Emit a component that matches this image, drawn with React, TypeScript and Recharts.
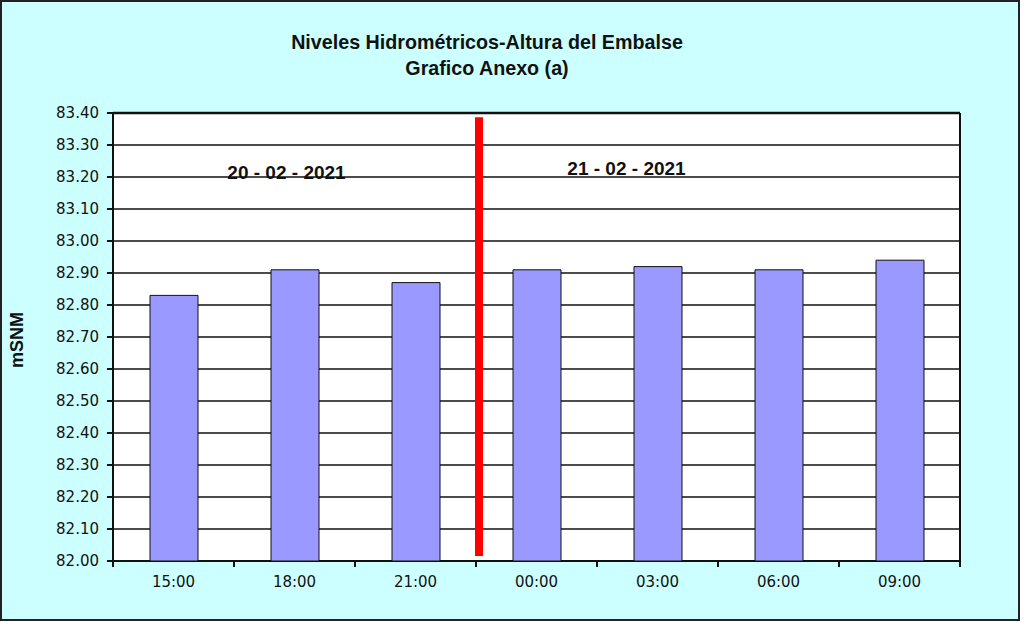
import { Bar, BarChart, CartesianGrid, ReferenceDot, ReferenceLine, XAxis, YAxis } from 'recharts';

const times = ['15:00', '18:00', '21:00', '00:00', '03:00', '06:00', '09:00'];
const levels = [82.83, 82.91, 82.87, 82.91, 82.92, 82.91, 82.94];
const yTicks = [82.0, 82.1, 82.2, 82.3, 82.4, 82.5, 82.6, 82.7, 82.8, 82.9, 83.0, 83.1, 83.2, 83.3, 83.4];
const dayLabels = ['20 - 02 - 2021', '21 - 02 - 2021'];
const dayLabelAt = ['18:00', '03:00'];
const dayLabelY = [83.215, 83.228];
// day change marker, drawn at the end of the 21:00 slot
const lastOfDay = '21:00';

const data = times.map((t, i) => ({ time: t, level: levels[i] }));

const font = '"Liberation Sans", Arial, sans-serif';
const tickFont = '"DejaVu Sans", sans-serif';
const W = 1024;
const H = 623;
const margin = { top: 113, right: 64, bottom: 0, left: 0 };
const layer = { position: 'absolute' as const, left: 0, top: 0 };

// tick label in the middle of the slot, tick mark on the slot boundaries
const TimeTick = (props: any) => {
    const { x, y, payload, index, visibleTicksCount } = props;
    const half = payload.offset ?? 0;
    const isLast = index === visibleTicksCount - 1;
    return (
        <g>
            <line x1={x - half} x2={x - half} y1={y - 9} y2={y - 2} stroke="#111" strokeWidth={2} />
            {isLast && <line x1={x + half} x2={x + half} y1={y - 9} y2={y - 2} stroke="#111" strokeWidth={2} />}
            <text x={x} y={y + 18} textAnchor="middle" fill="#111" fontSize={15} fontFamily={tickFont}>
                {payload.value}
            </text>
        </g>
    );
};

export default function App() {
    return (
        <div style={{ position: 'absolute', left: 0, top: 0, width: W, height: H, background: '#fff' }}>
            <div
                style={{
                    ...layer,
                    width: 1020,
                    height: 621,
                    boxSizing: 'border-box',
                    border: '2px solid #222',
                    background: '#CCFFFF',
                }}
            />
            <div
                style={{
                    ...layer,
                    width: 974,
                    top: 29,
                    textAlign: 'center',
                    fontFamily: font,
                    fontWeight: 'bold',
                    fontSize: 19.7,
                    lineHeight: '26px',
                    color: '#111',
                }}
            >
                <div>Niveles Hidrométricos-Altura del Embalse</div>
                <div>Grafico Anexo (a)</div>
            </div>

            {/* back layer: plot area, grid lines and axes */}
            <div style={layer}>
                <BarChart width={W} height={H} data={data} margin={margin}>
                    <CartesianGrid vertical={false} horizontal={false} fill="#fff" />
                    {yTicks.map((v) => (
                        <ReferenceLine key={v} y={v} stroke="#111" strokeWidth={v === 83.4 ? 2.5 : 1.5} />
                    ))}
                    <XAxis
                        dataKey="time"
                        height={62}
                        stroke="#111"
                        strokeWidth={2}
                        tickLine={false}
                        tick={<TimeTick />}
                        interval={0}
                    />
                    <YAxis
                        domain={[82, 83.4]}
                        ticks={yTicks}
                        tickFormatter={(v: number) => v.toFixed(2)}
                        width={113}
                        tick={{ fill: '#111', fontSize: 15, fontFamily: tickFont }}
                        tickSize={6}
                        tickMargin={8}
                        stroke="#111"
                        strokeWidth={2}
                        label={{
                            value: 'mSNM',
                            angle: -90,
                            position: 'insideLeft',
                            offset: 17,
                            dy: 3,
                            style: { fontFamily: font, fontWeight: 'bold', fontSize: 18, fill: '#111', textAnchor: 'middle' },
                        }}
                    />
                    {/* invisible copy of the series so the axes get their scales */}
                    <Bar dataKey="level" fill="none" stroke="none" barSize={48} isAnimationActive={false} />
                    <ReferenceLine x="09:00" position="end" stroke="#111" strokeWidth={2} />
                </BarChart>
            </div>

            {/* front layer: bars and annotations */}
            <div style={layer}>
                <BarChart width={W} height={H} data={data} margin={margin}>
                    <XAxis dataKey="time" height={62} axisLine={false} tickLine={false} tick={false} />
                    <YAxis domain={[82, 83.4]} ticks={yTicks} width={113} axisLine={false} tickLine={false} tick={false} />
                    <Bar dataKey="level" fill="#9999FF" stroke="#111" strokeWidth={1} barSize={48} isAnimationActive={false} />
                    <ReferenceLine
                        segment={[
                            { x: lastOfDay, y: 82.016 },
                            { x: lastOfDay, y: 83.387 },
                        ]}
                        position="end"
                        stroke="#FF0000"
                        strokeWidth={8}
                        transform="translate(3,0)"
                    />
                    {dayLabels.map((d, i) => (
                        <ReferenceDot
                            key={d}
                            x={dayLabelAt[i]}
                            y={dayLabelY[i]}
                            r={0}
                            label={{
                                value: d,
                                position: 'center',
                                dx: i === 0 ? -8 : -31,
                                style: { fontFamily: font, fontWeight: 'bold', fontSize: 19, fill: '#111' },
                            }}
                        />
                    ))}
                </BarChart>
            </div>
        </div>
    );
}
